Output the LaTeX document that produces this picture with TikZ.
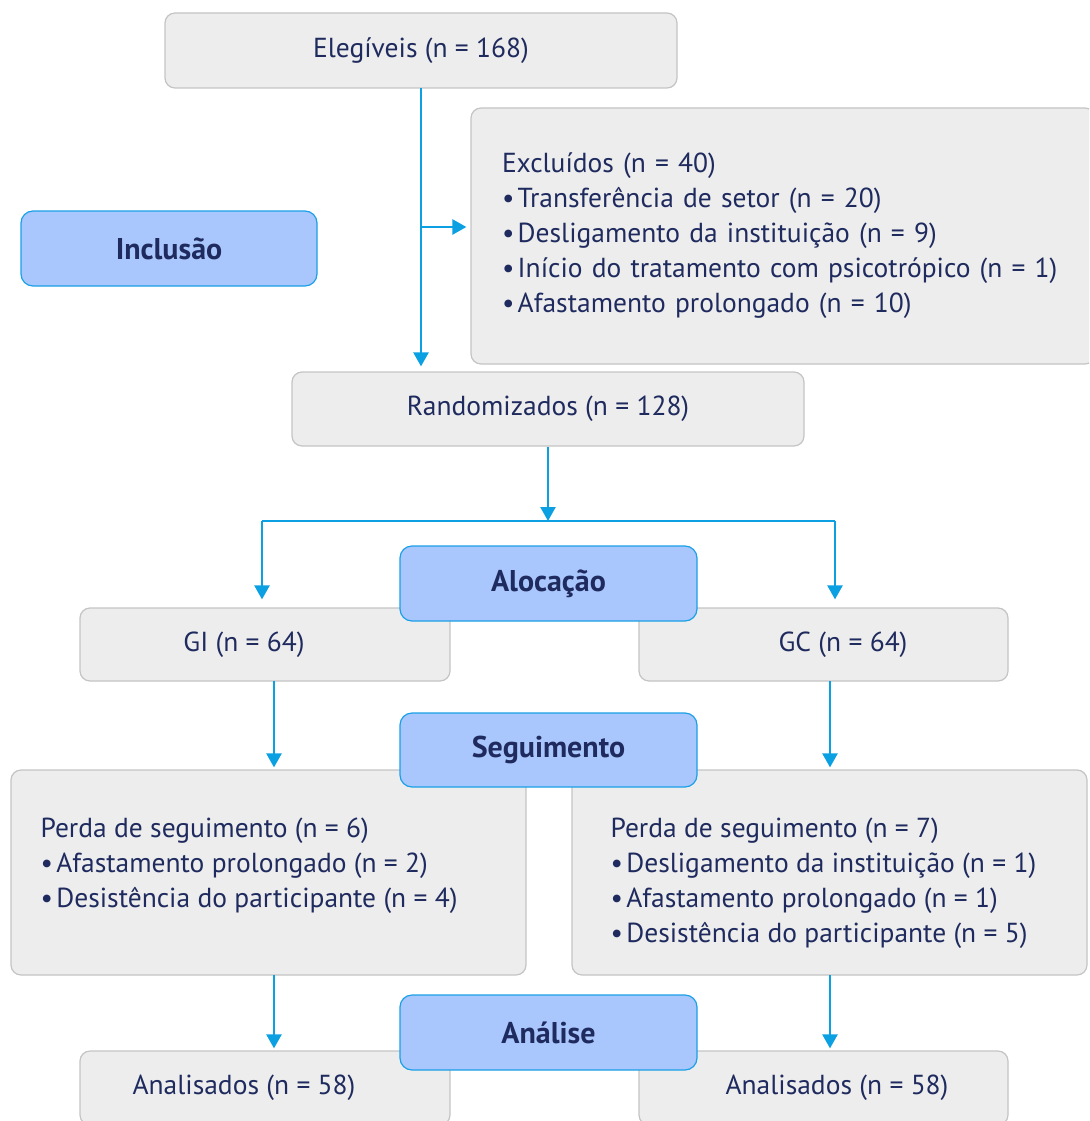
\documentclass[tikz,border=0pt]{standalone}
\usepackage{fontspec}
\setmainfont{PT Sans}
\usetikzlibrary{arrows.meta,calc}
\definecolor{navy}{HTML}{1F2B5E}
\definecolor{boxfill}{HTML}{EDEDED}
\definecolor{boxline}{HTML}{C4C4C4}
\definecolor{stagefill}{HTML}{A9C7FC}
\definecolor{stageline}{HTML}{1AA0E6}
\definecolor{lineblue}{HTML}{0BA0E2}
\newcommand{\bul}{•\hspace{0.12em}}
\begin{document}
\begin{tikzpicture}[x=1pt,y=-1pt,
  graybox/.style={draw=boxline,fill=boxfill,rounded corners=10pt,line width=1.2pt,inner sep=0pt,text=navy,font=\fontsize{27.5}{35}\selectfont},
  stagebox/.style={draw=stageline,fill=stagefill,rounded corners=12pt,line width=1.2pt,inner sep=0pt,text=navy,font=\fontsize{30}{35}\selectfont\bfseries,minimum width=297pt,minimum height=75pt},
  txt/.style={text=navy,font=\fontsize{27.5}{35}\selectfont,inner sep=0pt,align=left},
  conn/.style={draw=lineblue,line width=2.4pt},
  arr/.style={conn,-{Triangle[length=14pt,width=15pt]}}]
\useasboundingbox (0,0) rectangle (1089,1121);
\clip (0,0) rectangle (1089,1121);
% boxes
\node[graybox,minimum width=512pt,minimum height=75pt] (elig) at (421,50.5) {Elegíveis (n = 168)};
\node[graybox,minimum width=624pt,minimum height=256pt,text width=562pt,align=left] (excl) at (783,236) {Excluídos (n = 40)\\\bul Transferência de setor (n = 20)\\\bul Desligamento da instituição (n = 9)\\\bul Início do tratamento com psicotrópico (n = 1)\\\bul Afastamento prolongado (n = 10)};
\node[stagebox,minimum width=296pt] (incl) at (169,248.5) {Inclusão};
\node[graybox,minimum width=512pt,minimum height=74pt] (rand) at (548,409) {Randomizados (n = 128)};
\node[graybox,minimum width=370pt,minimum height=73pt] (gi) at (265,644.5) {};
\node[txt] (gitxt) at (244,644.5) {GI (n = 64)};
\node[graybox,minimum width=369pt,minimum height=73pt] (gc) at (823.5,644.5) {};
\node[txt] (gctxt) at (843,644.5) {GC (n = 64)};
\node[stagebox] (aloc) at (548.5,583.5) {Alocação};
\node[graybox,minimum width=515pt,minimum height=205pt] (perdl) at (268.5,872.5) {};
\node[txt,anchor=north west] (perdltxt) at ($(perdl.north west)+(30,48)$) {Perda de seguimento (n = 6)\\\bul Afastamento prolongado (n = 2)\\\bul Desistência do participante (n = 4)};
\node[graybox,minimum width=515pt,minimum height=205pt] (perdr) at (829.5,872.5) {};
\node[txt,anchor=north west] (perdrtxt) at ($(perdr.north west)+(39,48)$) {Perda de seguimento (n = 7)\\\bul Desligamento da instituição (n = 1)\\\bul Afastamento prolongado (n = 1)\\\bul Desistência do participante (n = 5)};
\node[stagebox,minimum height=74pt] (seg) at (548.5,750) {Seguimento};
\node[graybox,minimum width=370pt,minimum height=74pt] (anl) at (265,1088) {};
\node[txt] (anltxt) at (244,1088) {Analisados (n = 58)};
\node[graybox,minimum width=369pt,minimum height=74pt] (anr) at (823.5,1088) {};
\node[txt] (anrtxt) at (837,1088) {Analisados (n = 58)};
\node[stagebox] (anal) at (548.5,1032.5) {Análise};
% connectors
\coordinate (main) at (421,88);
\coordinate (branch) at (421,227);
\draw[arr,shorten >=5pt] (main) -- (main |- rand.north);
\draw[arr,shorten >=4pt] (branch) -- (branch -| excl.west);
\coordinate (split) at (548,521);
\coordinate (sl) at (262,521);
\coordinate (sr) at (835,521);
\draw[arr] (rand.south) -- (split);
\draw[conn] (sl) -- (sr);
\draw[arr,shorten >=8pt] (sl) -- (sl |- gi.north);
\draw[arr,shorten >=8pt] (sr) -- (sr |- gc.north);
\coordinate (gl) at (274,681);
\coordinate (gr) at (830,681);
\draw[arr,shorten >=2pt] (gl) -- (gl |- perdl.north);
\draw[arr,shorten >=2pt] (gr) -- (gr |- perdr.north);
\coordinate (pl) at (274,975);
\coordinate (pr) at (830,975);
\draw[arr,shorten >=2pt] (pl) -- (pl |- anl.north);
\draw[arr,shorten >=2pt] (pr) -- (pr |- anr.north);
\end{tikzpicture}
\end{document}
